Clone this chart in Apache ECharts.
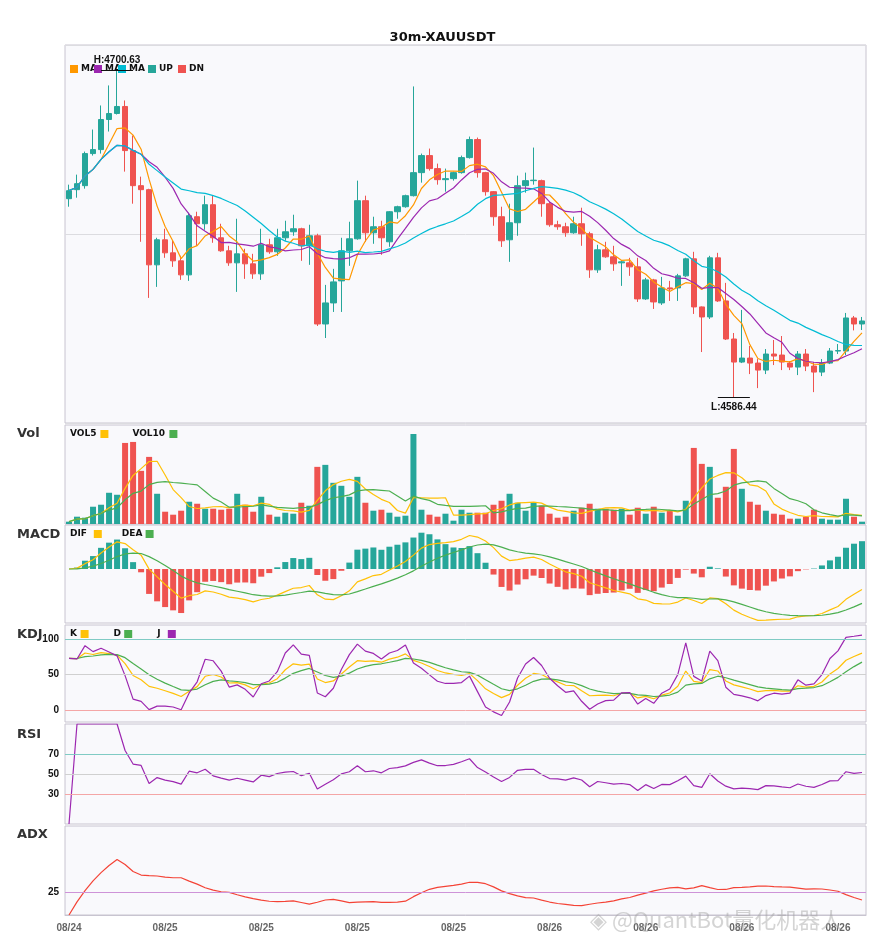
<!DOCTYPE html>
<html><head><meta charset="utf-8">
<script src="https://cdn.jsdelivr.net/npm/echarts@6/dist/echarts.min.js"></script>
<style>html,body{margin:0;padding:0;background:#fff}#c{width:885px;height:950px}</style>
</head><body><div id="c"></div>
<script>
const opens=[4655.83,4658.98,4660.38,4671.58,4672.98,4683.48,4685.58,4688.03,4672.63,4660.38,
4658.98,4632.73,4641.48,4636.93,4634.13,4629.23,4649.53,4647.08,4653.73,4642.18,
4637.63,4633.43,4636.58,4633.08,4629.58,4639.73,4637.28,4642.18,4644.28,4645.33,
4639.38,4642.88,4612.08,4619.43,4627.13,4637.63,4641.83,4655.13,4643.93,4646.03,
4640.78,4651.28,4653.03,4656.88,4664.93,4670.88,4666.33,4662.48,4662.83,4664.93,
4670.18,4676.48,4664.93,4658.28,4649.53,4641.48,4647.43,4660.38,4662.13,4662.13,
4654.08,4646.73,4646.03,4643.93,4647.08,4643.58,4630.98,4637.98,4635.53,4633.43,
4633.43,4632.03,4620.83,4627.48,4619.43,4624.68,4624.68,4628.88,4634.83,4618.03,
4614.53,4635.18,4620.13,4606.83,4598.78,4600.18,4598.43,4595.98,4601.58,4601.23,
4598.43,4597.03,4601.58,4597.38,4595.28,4598.43,4602.63,4602.63,4614.18,4612.08];
const closes=[4658.63,4661.08,4671.58,4672.98,4683.48,4685.58,4688.03,4672.63,4660.38,4658.98,
4632.73,4641.48,4636.93,4634.13,4629.23,4649.88,4647.08,4653.73,4642.18,4637.63,
4633.43,4636.58,4633.08,4629.58,4639.73,4637.28,4642.18,4644.28,4645.33,4639.38,
4642.88,4612.08,4619.43,4626.78,4637.63,4641.83,4655.13,4643.93,4646.03,4642.18,
4651.28,4653.03,4656.88,4664.93,4670.88,4666.33,4662.48,4662.83,4664.93,4670.18,
4676.48,4664.93,4658.28,4649.53,4641.13,4647.43,4660.38,4662.13,4662.3,4654.08,
4646.73,4646.03,4643.93,4647.08,4643.58,4630.98,4637.98,4635.53,4633.08,4633.78,
4632.03,4620.83,4627.48,4619.78,4624.68,4624.33,4628.88,4634.83,4618.03,4614.53,
4635.18,4620.13,4606.83,4598.78,4600.18,4598.43,4595.98,4601.58,4600.88,4598.78,
4597.03,4601.58,4597.38,4595.28,4598.43,4602.63,4602.8,4614.18,4612.08,4613.13];
const lows=[4653.03,4656.18,4659.33,4670.88,4671.58,4679.28,4685.23,4665.28,4654.08,4640.78,
4621.18,4625.03,4635.18,4632.03,4627.48,4627.13,4639.38,4644.98,4640.43,4637.28,
4632.38,4623.28,4627.83,4627.83,4627.48,4636.58,4635.88,4641.13,4642.88,4634.13,
4632.73,4611.38,4607.18,4616.28,4616.28,4632.38,4641.5,4640.78,4640.08,4636.23,
4639.03,4648.83,4652.68,4656.6,4661.43,4665.63,4660.73,4658.28,4662.13,4664.58,
4669.83,4663.18,4656.88,4646.38,4638.98,4633.78,4642.88,4657.93,4660.73,4649.53,
4646.03,4644.98,4642.53,4643.58,4639.38,4628.18,4629.93,4635.18,4630.63,4625.38,
4628.88,4619.78,4620.48,4617.33,4618.73,4620.13,4620.13,4628.53,4615.58,4602.28,
4613.83,4619.78,4606.48,4586.44,4598.43,4594.58,4589.68,4594.58,4597.73,4595.98,
4595.98,4594.23,4595.63,4588.28,4593.88,4598.08,4601.58,4601.23,4609.83,4609.98];
const highs=[4660.73,4664.23,4672.28,4679.98,4688.38,4695.38,4700.63,4690.13,4677.88,4663.53,
4659.3,4642.18,4645.33,4641.13,4635.88,4650.93,4651.28,4656.88,4656.88,4647.08,
4639.38,4648.83,4638.33,4636.58,4645.33,4641.83,4645.33,4648.13,4650.23,4645.68,
4646.73,4643.58,4625.73,4631.33,4642.18,4647.78,4662.13,4656.88,4649.53,4648.13,
4651.5,4653.38,4657.23,4695.03,4671.58,4673.33,4668.08,4666.33,4665.28,4670.88,
4677.53,4677.18,4665.2,4658.5,4653.03,4654.08,4663.88,4664.93,4673.68,4662.48,
4654.78,4648.13,4647.43,4649.53,4652.68,4644.28,4639.73,4640.78,4639.38,4634.13,
4635.18,4635.18,4628.18,4627.83,4628.53,4627.13,4629.58,4635.18,4637.28,4618.2,
4635.88,4636.93,4626.43,4608.93,4617.0,4604.38,4599.83,4603.33,4606.48,4607.88,
4599.13,4602.63,4603.33,4598.78,4599.83,4603.68,4605.08,4615.93,4614.88,4614.53];
const volumes=[70,220,190,520,580,940,880,2440,2470,1600,
2020,910,370,280,400,670,610,460,460,430,
460,910,580,370,820,280,220,340,310,640,
550,1720,1780,1240,1150,820,1420,640,400,430,
340,220,250,2710,430,280,220,310,100,430,
340,340,340,580,700,910,640,400,640,550,
310,190,220,400,490,610,460,460,430,460,
280,490,310,520,340,400,250,700,2290,1810,
1720,790,1120,2260,1060,670,580,400,310,280,
160,160,220,430,160,130,130,760,220,70];
const startTime='2025-08-24T18:00:00Z';
const kdjLevels=[100,50,0];
const rsiLevels=[70,50,30];
const adxLevels=[25];

const N=closes.length;
const pad=n=>String(n).padStart(2,'0');
const dates=[];
for(let i=0;i<N;i++){const d=new Date(Date.parse(startTime)+i*1800000);dates.push(pad(d.getUTCMonth()+1)+'/'+pad(d.getUTCDate())+' '+pad(d.getUTCHours())+':'+pad(d.getUTCMinutes()));}

const GREEN='#26a69a',RED='#ef5350';
function ma(arr,n){return arr.map((v,i)=>{const s=arr.slice(Math.max(0,i-n+1),i+1);return +(s.reduce((a,b)=>a+b,0)/s.length).toFixed(2);});}
function ema(arr,n){const k=2/(n+1);let out=[];arr.forEach((v,i)=>out.push(i===0?v:out[i-1]+k*(v-out[i-1])));return out;}
const ma5=ma(closes,5),ma10=ma(closes,10),ma20=ma(closes,20);
const vol5=ma(volumes,5),vol10=ma(volumes,10);
const e12=ema(closes,12),e26=ema(closes,26);
const dif=e12.map((v,i)=>v-e26[i]);const dea=ema(dif,9);const hist=dif.map((v,i)=>2*(v-dea[i]));
let K=[],D=[],J=[];
for(let i=0;i<N;i++){const lo=Math.min(...lows.slice(Math.max(0,i-8),i+1)),hi=Math.max(...highs.slice(Math.max(0,i-8),i+1));
const rsv=hi===lo?50:(closes[i]-lo)/(hi-lo)*100;
const k=i===0?rsv:(2*K[i-1]+rsv)/3;const d=i===0?rsv:(2*D[i-1]+k)/3;K.push(k);D.push(d);J.push(3*k-2*d);}
let rsi=[0],ag=0,al=0;
for(let i=1;i<N;i++){const ch=closes[i]-closes[i-1];const g=Math.max(ch,0),l=Math.max(-ch,0);
if(i===1){ag=g;al=l;}else{ag=(ag*13+g)/14;al=(al*13+l)/14;}rsi.push(al===0?100:100-100/(1+ag/al));}
let adx=[0],tr=0,pdm=0,mdm=0;
for(let i=1;i<N;i++){const t=Math.max(highs[i]-lows[i],Math.abs(highs[i]-closes[i-1]),Math.abs(lows[i]-closes[i-1]));
const up=highs[i]-highs[i-1],dn=lows[i-1]-lows[i];const p=(up>dn&&up>0)?up:0,m=(dn>up&&dn>0)?dn:0;
tr=tr-tr/14+t;pdm=pdm-pdm/14+p;mdm=mdm-mdm/14+m;const pdi=pdm/tr*100,mdi=mdm/tr*100;const dx=(pdi+mdi)?Math.abs(pdi-mdi)/(pdi+mdi)*100:0;
adx.push(adx[i-1]+(dx-adx[i-1])/7);}
const adxMin=0,adxMax=adxMin+(25-adxMin)*89/23;

let mPos=Math.max(...dif,...dea,...hist),mNeg=-Math.min(...dif,...dea,...hist);
let mMax=Math.max(mPos*1.05,mNeg/1.227*1.05),mMin=-mMax*1.227;

const grids=[[45,378],[425,99],[525,98],[625,97],[724,100],[826,89]];
const bg='#f9f9fc';
const chart=echarts.init(document.getElementById('c'));
const xAxes=grids.map((g,i)=>({type:'category',gridIndex:i,data:dates,boundaryGap:true,
 axisLine:{show:i===5,lineStyle:{color:'#c8c4d0'}},axisTick:{show:false},
 axisLabel:{show:i===5,interval:11,color:'#666',fontWeight:'bold',fontSize:10,formatter:v=>v.slice(0,5)},splitLine:{show:false}}));
const hid={axisLabel:{show:false},axisLine:{show:false},axisTick:{show:false},splitLine:{show:false}};
const yAxes=[
 {gridIndex:0,min:4577.5,max:4709.5,interval:66,axisLabel:{show:false},axisLine:{show:false},axisTick:{show:false},splitLine:{show:true,lineStyle:{color:'#dcdce0'}}},
 Object.assign({gridIndex:1,min:0,max:2980},hid),
 Object.assign({gridIndex:2,min:mMin,max:mMax},hid),
 Object.assign({gridIndex:3,min:-17,max:120},hid),
 Object.assign({gridIndex:4,min:0,max:100},hid),
 Object.assign({gridIndex:5,min:adxMin,max:adxMax},hid)];
function lvl(levels,colors){return {silent:true,symbol:'none',data:levels.map((v,i)=>({yAxis:v,lineStyle:{color:colors[i],type:'solid',width:1},
 label:{show:true,position:'start',formatter:String(v),color:'#111',fontWeight:'bold',fontSize:10,distance:6}}))};}
const line=(name,data,color,xi,extra)=>Object.assign({name,type:'line',xAxisIndex:xi,yAxisIndex:xi,data,symbol:'none',smooth:false,lineStyle:{color,width:1.2},itemStyle:{color},z:3},extra||{});
let hiIdx=highs.indexOf(Math.max(...highs)),loIdx=lows.indexOf(Math.min(...lows));
const ext=(idx,val,txt,pos)=>[{coord:[Math.max(0,idx-2),val],label:{show:true,position:pos,formatter:txt,color:'#111',fontWeight:'bold',fontSize:10}},{coord:[Math.min(N-1,idx+2),val]}];
const series=[
 {name:'K',type:'candlestick',xAxisIndex:0,yAxisIndex:0,barWidth:6,data:opens.map((o,i)=>[o,closes[i],lows[i],highs[i]]),
  itemStyle:{color:GREEN,color0:RED,borderColor:GREEN,borderColor0:RED,borderWidth:1},
  markLine:{silent:true,symbol:'none',lineStyle:{color:'#111',type:'solid',width:1},data:[
   ext(hiIdx,highs[hiIdx],'H:'+highs[hiIdx].toFixed(2),'insideMiddleTop'),
   ext(loIdx,lows[loIdx],'L:'+lows[loIdx].toFixed(2),'insideMiddleBottom')]}},
 line('MA5',ma5,'#ff9800',0),line('MA10',ma10,'#9c27b0',0),line('MA20',ma20,'#00bcd4',0),
 {type:'bar',xAxisIndex:1,yAxisIndex:1,barWidth:6,data:volumes.map((v,i)=>({value:v,itemStyle:{color:closes[i]>=opens[i]?GREEN:RED}}))},
 line('VOL5',vol5,'#ffc107',1),line('VOL10',vol10,'#4caf50',1),
 {type:'bar',xAxisIndex:2,yAxisIndex:2,barWidth:6,data:hist.map(v=>({value:+v.toFixed(3),itemStyle:{color:v>=0?GREEN:RED}}))},
 line('DIF',dif.map(v=>+v.toFixed(3)),'#ffc107',2),line('DEA',dea.map(v=>+v.toFixed(3)),'#4caf50',2),
 line('Kl',K.map(v=>+v.toFixed(2)),'#ffc107',3,{markLine:lvl(kdjLevels,['#80cbc4','#d0d0d0','#f4a6a6'])}),
 line('Dl',D.map(v=>+v.toFixed(2)),'#4caf50',3),line('Jl',J.map(v=>+v.toFixed(2)),'#9c27b0',3),
 line('RSI',rsi.map(v=>+v.toFixed(2)),'#9c27b0',4,{markLine:lvl(rsiLevels,['#80cbc4','#d0d0d0','#f4a6a6'])}),
 line('ADX',adx.map(v=>+v.toFixed(2)),'#f44336',5,{markLine:lvl(adxLevels,['#ce93d8'])})
];
const lbl=(t,y)=>({type:'text',left:17,top:y,style:{text:t,font:'bold 13px DejaVu Sans',fill:'#333'}});
function leg(items,x,y){const out=[];let cx=x;items.forEach(([t,c,gap])=>{out.push({type:'text',left:cx,top:y,style:{text:t,font:'bold 9px DejaVu Sans',fill:'#111'}});
 cx+=t.length*6.6+4;out.push({type:'rect',shape:{x:cx,y:y+1,width:8,height:8},style:{fill:c}});cx+=gap;});return out;}
const graphics=[
 lbl('Vol',427),lbl('MACD',528),lbl('KDJ',628),lbl('RSI',728),lbl('ADX',828),
 ...leg([['VOL5','#ffc107',32],['VOL10','#4caf50',20]],70,429),
 ...leg([['DIF','#ffc107',28],['DEA','#4caf50',20]],70,529),
 ...leg([['K','#ffc107',33],['D','#4caf50',33],['J','#9c27b0',20]],70,629),
 {type:'rect',shape:{x:70,y:65,width:8,height:8},style:{fill:'#ff9800'}},
 {type:'text',left:81,top:64,style:{text:'MA',font:'bold 9px DejaVu Sans',fill:'#111'}},
 {type:'rect',shape:{x:94,y:65,width:8,height:8},style:{fill:'#9c27b0'}},
 {type:'text',left:105,top:64,style:{text:'MA',font:'bold 9px DejaVu Sans',fill:'#111'}},
 {type:'rect',shape:{x:118,y:65,width:8,height:8},style:{fill:'#00bcd4'}},
 {type:'text',left:129,top:64,style:{text:'MA',font:'bold 9px DejaVu Sans',fill:'#111'}},
 {type:'rect',shape:{x:148,y:65,width:8,height:8},style:{fill:GREEN}},
 {type:'text',left:159,top:64,style:{text:'UP',font:'bold 9px DejaVu Sans',fill:'#111'}},
 {type:'rect',shape:{x:178,y:65,width:8,height:8},style:{fill:RED}},
 {type:'text',left:189,top:64,style:{text:'DN',font:'bold 9px DejaVu Sans',fill:'#111'}},
 {type:'text',left:590,top:909,z:100,style:{text:'◈ @QuantBot量化机器人',font:'22px "Noto Sans CJK SC"',fill:'rgba(160,160,160,0.45)'}}
];
chart.setOption({animation:false,backgroundColor:'#fff',
 title:{text:'30m-XAUUSDT',left:'center',top:26,textStyle:{fontSize:13,fontWeight:'bold',color:'#111',fontFamily:'DejaVu Sans'}},
 grid:grids.map(([t,h])=>({left:65,width:801,top:t,height:h,show:true,backgroundColor:bg,borderColor:'#c8c4d0',borderWidth:1})),
 xAxis:xAxes,yAxis:yAxes,series,graphic:graphics});
</script></body></html>
